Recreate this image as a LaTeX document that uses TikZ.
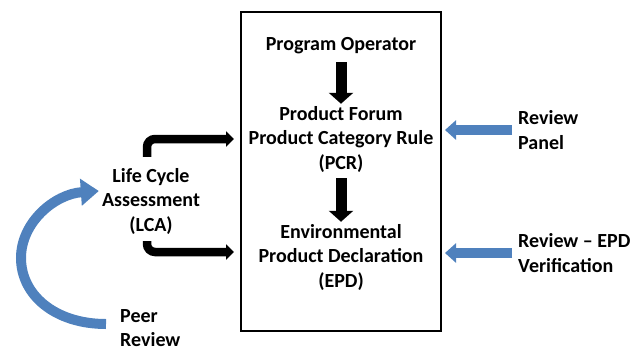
\documentclass[tikz,border=0pt]{standalone}
\usepackage{fontspec}
\setmainfont{Carlito}
\usetikzlibrary{arrows.meta}
\definecolor{arrowblue}{RGB}{79,129,189}
\tikzset{
  label text/.style={font=\fontsize{20}{24.5}\selectfont\bfseries, inner sep=2pt},
  blackarrow/.style={line width=11pt, -{Triangle[length=11pt,width=24pt]}},
  elbowarrow/.style={line width=8.5pt, rounded corners=8pt, -{Triangle[length=8pt,width=15pt]}},
  bluearrow/.style={arrowblue, line width=10pt, -{Triangle[length=11pt,width=19pt]}},
  bluearc/.style={arrowblue, line width=10pt, -{Triangle[length=18pt,width=26pt]}},
}
\begin{document}
\begin{tikzpicture}[x=1pt,y=-1pt]
\useasboundingbox (0,0) rectangle (631,348);

% central frame
\node[draw, line width=2pt, minimum width=200pt, minimum height=319pt, inner sep=0pt] (box) at (341,171.5) {};

% texts inside the frame
\node[label text] (po) at (341,46) {Program Operator};
\node[label text, align=center] (pcr) at (341,139) {Product Forum\\Product Category Rule\\(PCR)};
\node[label text, align=center] (epd) at (341,257) {Environmental\\Product Declaration\\(EPD)};

% texts outside the frame
\node[label text, align=center] (lca) at (151,201) {Life Cycle\\Assessment\\(LCA)};
\node[label text, align=left, anchor=west] (peer) at (118,328) {Peer\\Review};
\node[label text, align=left, anchor=west] (rp) at (516,130) {Review\\Panel};
\node[label text, align=left, anchor=west] (rv) at (516,253) {Review -- EPD\\Verification};

% flow inside the frame
\draw[blackarrow, shorten <=6pt] (po.south) -- (pcr.north);
\draw[blackarrow, shorten <=4pt] (pcr.south) -- (epd.north);

% LCA feeds both documents
\draw[elbowarrow] ([shift={(-4,-9)}]lca.north) |- ([xshift=-6pt]box.west |- pcr.west);
\draw[elbowarrow] ([shift={(-4,5)}]lca.south) |- ([shift={(-6pt,5pt)}]box.west |- epd.west);

% reviews acting on the documents
\draw[bluearrow, shorten <=4pt] (rp.west) -- ([xshift=3pt]box.east |- rp.west);
\draw[bluearrow, shorten <=4pt] (rv.west) -- ([xshift=3pt]box.east |- rv.west);

% peer review loop back to the LCA
\coordinate (arcstart) at (106,324);
\draw[bluearc] (arcstart) .. controls (55,324) and (21,295) .. (21,258)
  .. controls (21,222) and (55,194) .. ([shift={(-1,-10)}]lca.west);
\end{tikzpicture}
\end{document}
